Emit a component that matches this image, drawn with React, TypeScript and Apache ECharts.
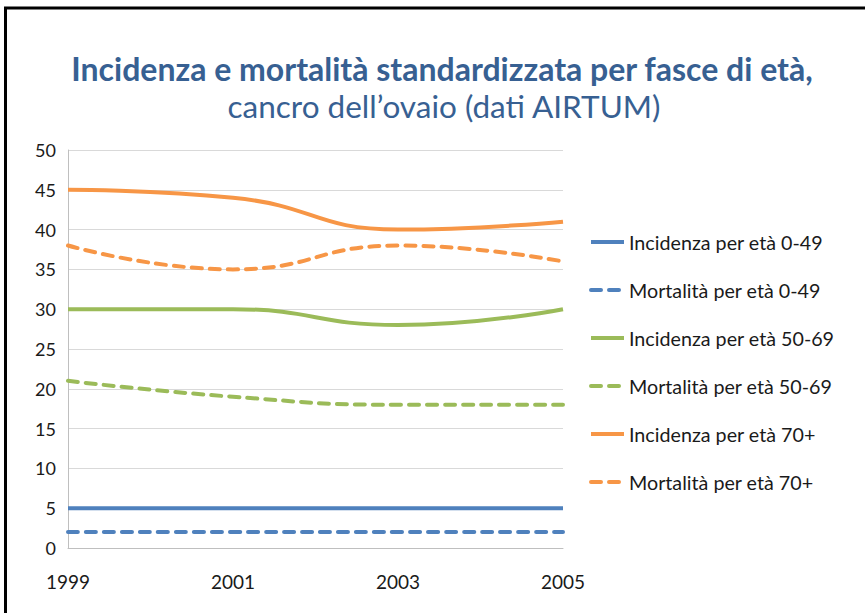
import React, { useEffect, useRef } from "react";
import * as echarts from "echarts";

const years = ["1999", "2001", "2003", "2005"];
const inc049 = [5, 5, 5, 5];
const mort049 = [2, 2, 2, 2];
const inc5069 = [30, 30, 28, 30];
const mort5069 = [21, 19, 18, 18];
const inc70 = [45, 44, 40, 41];
const mort70 = [38, 35, 38, 36];

const seriesNames = [
  "Incidenza per età 0-49",
  "Mortalità per età 0-49",
  "Incidenza per età 50-69",
  "Mortalità per età 50-69",
  "Incidenza per età 70+",
  "Mortalità per età 70+",
];

const titleLine1 = "Incidenza e mortalità standardizzata per fasce di età,";
const titleLine2 = "cancro dell’ovaio (dati AIRTUM)";

const BLUE = "#4F81BD";
const GREEN = "#9BBB59";
const ORANGE = "#F79646";
const FONT = "Lato, 'Liberation Sans', sans-serif";
const DASH = [10, 8];

function mk(name: string, data: number[], color: string, dashed: boolean) {
  return {
    name,
    type: "line",
    data,
    smooth: true,
    symbol: "none",
    showSymbol: false,
    itemStyle: { color },
    lineStyle: {
      color,
      width: 4,
      type: dashed ? DASH : "solid",
      cap: dashed ? "round" : "butt",
    },
  };
}

export default function App() {
  const ref = useRef<HTMLDivElement>(null);
  useEffect(() => {
    const chart = echarts.init(ref.current!, null, { renderer: "svg" });
    const colors = [BLUE, BLUE, GREEN, GREEN, ORANGE, ORANGE];
    chart.setOption({
      animation: false,
      backgroundColor: "#ffffff",
      textStyle: { fontFamily: FONT },
      graphic: [
        {
          type: "rect",
          shape: { x: 5.5, y: 8, width: 1000, height: 1000 },
          style: { fill: "none", stroke: "#000", lineWidth: 3 },
          silent: true,
        },
        {
          type: "text",
          x: 442,
          y: 68,
          style: {
            text: titleLine1,
            fontFamily: FONT,
            fontSize: 32,
            fontWeight: "bold",
            fill: "#376092",
            textAlign: "center",
            textVerticalAlign: "middle",
          },
        },
        {
          type: "text",
          x: 444,
          y: 106,
          style: {
            text: titleLine2,
            fontFamily: FONT,
            fontSize: 31.5,
            fill: "#376092",
            textAlign: "center",
            textVerticalAlign: "middle",
          },
        },
      ],
      grid: { left: 68, right: 302, top: 150, bottom: 65, containLabel: false },
      legend: {
        orient: "vertical",
        left: 589,
        top: 232,
        padding: 0,
        itemWidth: 33,
        itemHeight: 14,
        itemGap: 28,
        itemStyle: { opacity: 0, borderWidth: 0 },
        textStyle: { fontFamily: FONT, fontSize: 19.7, lineHeight: 20, color: "#1a1a1a" },
        data: seriesNames.map((name, i) => ({
          name,
          itemStyle: { opacity: 0, borderWidth: 0 },
          lineStyle: {
            color: colors[i],
            width: 4,
            type: i % 2 === 1 ? DASH : "solid",
            cap: i % 2 === 1 ? "round" : "butt",
            opacity: 1,
          },
        })),
      },
      xAxis: {
        type: "category",
        data: years,
        boundaryGap: false,
        axisLine: { lineStyle: { color: "#BFBFBF", width: 1 } },
        axisTick: { show: false },
        axisLabel: { fontFamily: FONT, fontSize: 19, color: "#1a1a1a", margin: 24 },
        splitLine: { show: false },
      },
      yAxis: {
        type: "value",
        min: 0,
        max: 50,
        interval: 5,
        axisLine: { show: true, lineStyle: { color: "#BFBFBF", width: 1 } },
        axisTick: { show: false },
        axisLabel: { fontFamily: FONT, fontSize: 18, color: "#1a1a1a", margin: 12 },
        splitLine: { lineStyle: { color: "#D9D9D9", width: 1 } },
      },
      series: [
        mk(seriesNames[0], inc049, BLUE, false),
        mk(seriesNames[1], mort049, BLUE, true),
        mk(seriesNames[2], inc5069, GREEN, false),
        mk(seriesNames[3], mort5069, GREEN, true),
        mk(seriesNames[4], inc70, ORANGE, false),
        mk(seriesNames[5], mort70, ORANGE, true),
      ],
    });
    return () => chart.dispose();
  }, []);
  return (
    <div
      ref={ref}
      style={{ position: "fixed", left: 0, top: 0, width: 865, height: 613, background: "#fff" }}
    />
  );
}
